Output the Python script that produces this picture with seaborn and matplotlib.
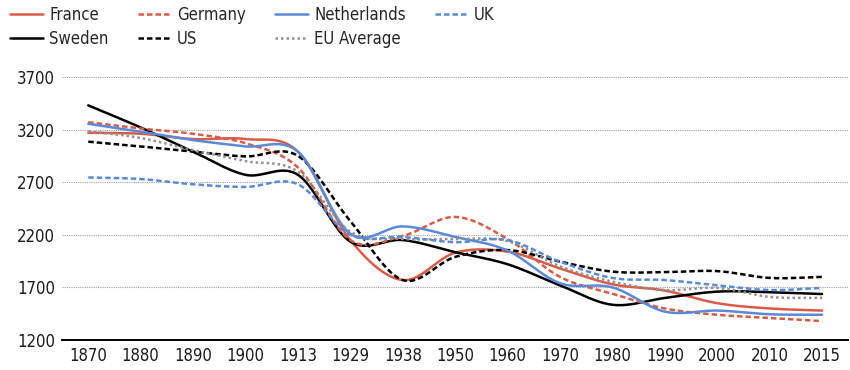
import numpy as np
import pandas as pd
import matplotlib
matplotlib.use("Agg")
import matplotlib.pyplot as plt
import seaborn as sns

years = ["1870", "1880", "1890", "1900", "1913", "1929", "1938", "1950",
         "1960", "1970", "1980", "1990", "2000", "2010", "2015"]

france      = [3170, 3160, 3110, 3110, 2990, 2150, 1770, 2030, 2040, 1880, 1730, 1670, 1550, 1500, 1480]
germany     = [3270, 3210, 3160, 3070, 2840, 2150, 2190, 2370, 2160, 1800, 1640, 1500, 1440, 1410, 1380]
netherlands = [3255, 3180, 3100, 3040, 2990, 2210, 2280, 2180, 2050, 1740, 1700, 1470, 1480, 1445, 1440]
uk          = [2745, 2730, 2680, 2655, 2680, 2200, 2180, 2130, 2150, 1945, 1790, 1770, 1720, 1675, 1695]
sweden      = [3430, 3220, 2990, 2770, 2770, 2135, 2150, 2035, 1920, 1720, 1535, 1600, 1660, 1655, 1637]
us          = [3085, 3040, 2990, 2945, 2950, 2330, 1770, 1990, 2055, 1945, 1850, 1845, 1855, 1790, 1800]
eu_average  = [3185, 3120, 3005, 2900, 2800, 2230, 2160, 2160, 2140, 1900, 1755, 1675, 1695, 1610, 1600]

series = {
    "France": france, "Germany": germany, "Netherlands": netherlands, "UK": uk,
    "Sweden": sweden, "US": us, "EU Average": eu_average,
}

RED = "#D95B45"
BLUE = "#5A8AD6"
styles = {
    "France": (RED, "-"), "Germany": (RED, (0, (2.2, 1.2))),
    "Netherlands": (BLUE, "-"), "UK": (BLUE, (0, (2.2, 1.2))),
    "Sweden": ("black", "-"), "US": ("black", (0, (2.2, 1.2))),
    "EU Average": ("#8f8f8f", (0, (1, 1.2))),
}


def smooth(vals, n=24):
    """Catmull-Rom smoothing through the points (like Excel smoothed lines)."""
    v = np.asarray(vals, float)
    p = np.concatenate([[2 * v[0] - v[1]], v, [2 * v[-1] - v[-2]]])
    xs, ys = [], []
    for i in range(len(v) - 1):
        p0, p1, p2, p3 = p[i], p[i + 1], p[i + 2], p[i + 3]
        t = np.linspace(0, 1, n, endpoint=False)
        y = 0.5 * ((2 * p1) + (-p0 + p2) * t + (2 * p0 - 5 * p1 + 4 * p2 - p3) * t ** 2
                   + (-p0 + 3 * p1 - 3 * p2 + p3) * t ** 3)
        xs.extend(i + t)
        ys.extend(y)
    xs.append(len(v) - 1)
    ys.append(v[-1])
    return np.array(xs), np.array(ys)


rows = []
for name, vals in series.items():
    x, y = smooth(vals)
    rows.append(pd.DataFrame({"x": x, "value": y, "series": name}))
df = pd.concat(rows, ignore_index=True)

sns.set_style("white")
plt.rcParams["font.family"] = ["DejaVu Sans"]
plt.rcParams["font.stretch"] = "condensed"

fig = plt.figure(figsize=(8.5, 3.7), dpi=100)
ax = fig.add_axes([0.073, 0.081, 0.925, 0.711])

order = ["France", "Sweden", "Germany", "US", "Netherlands", "EU Average", "UK"]
for name in order:
    c, ls = styles[name]
    sns.lineplot(data=df[df["series"] == name], x="x", y="value", ax=ax,
                 color=c, linestyle=ls, linewidth=1.8, label=name,
                 estimator=None, sort=False)

ax.set_xlim(-0.5, 14.5)
ax.set_ylim(1200, 3700)
ax.set_yticks([1200, 1700, 2200, 2700, 3200, 3700])
ax.set_xticks(range(len(years)))
ax.set_xticklabels(years)
ax.set_xlabel("")
ax.set_ylabel("")
ax.tick_params(axis="both", labelsize=12, length=0, pad=5, colors="#1a1a1a")
for s in ["left", "right", "top"]:
    ax.spines[s].set_visible(False)
ax.spines["bottom"].set_color("black")
ax.spines["bottom"].set_linewidth(1.4)
ax.yaxis.grid(True, color="#a0a0a0", linestyle=(0, (1, 1)), linewidth=0.8)
ax.set_axisbelow(True)

ax.legend(loc="upper left", bbox_to_anchor=(-0.066, 1.27), ncol=4, frameon=False,
          fontsize=12, handlelength=2.0, handletextpad=0.35, columnspacing=1.75,
          labelspacing=0.38, borderaxespad=0, borderpad=0)

fig.savefig("out.png", dpi=100)
